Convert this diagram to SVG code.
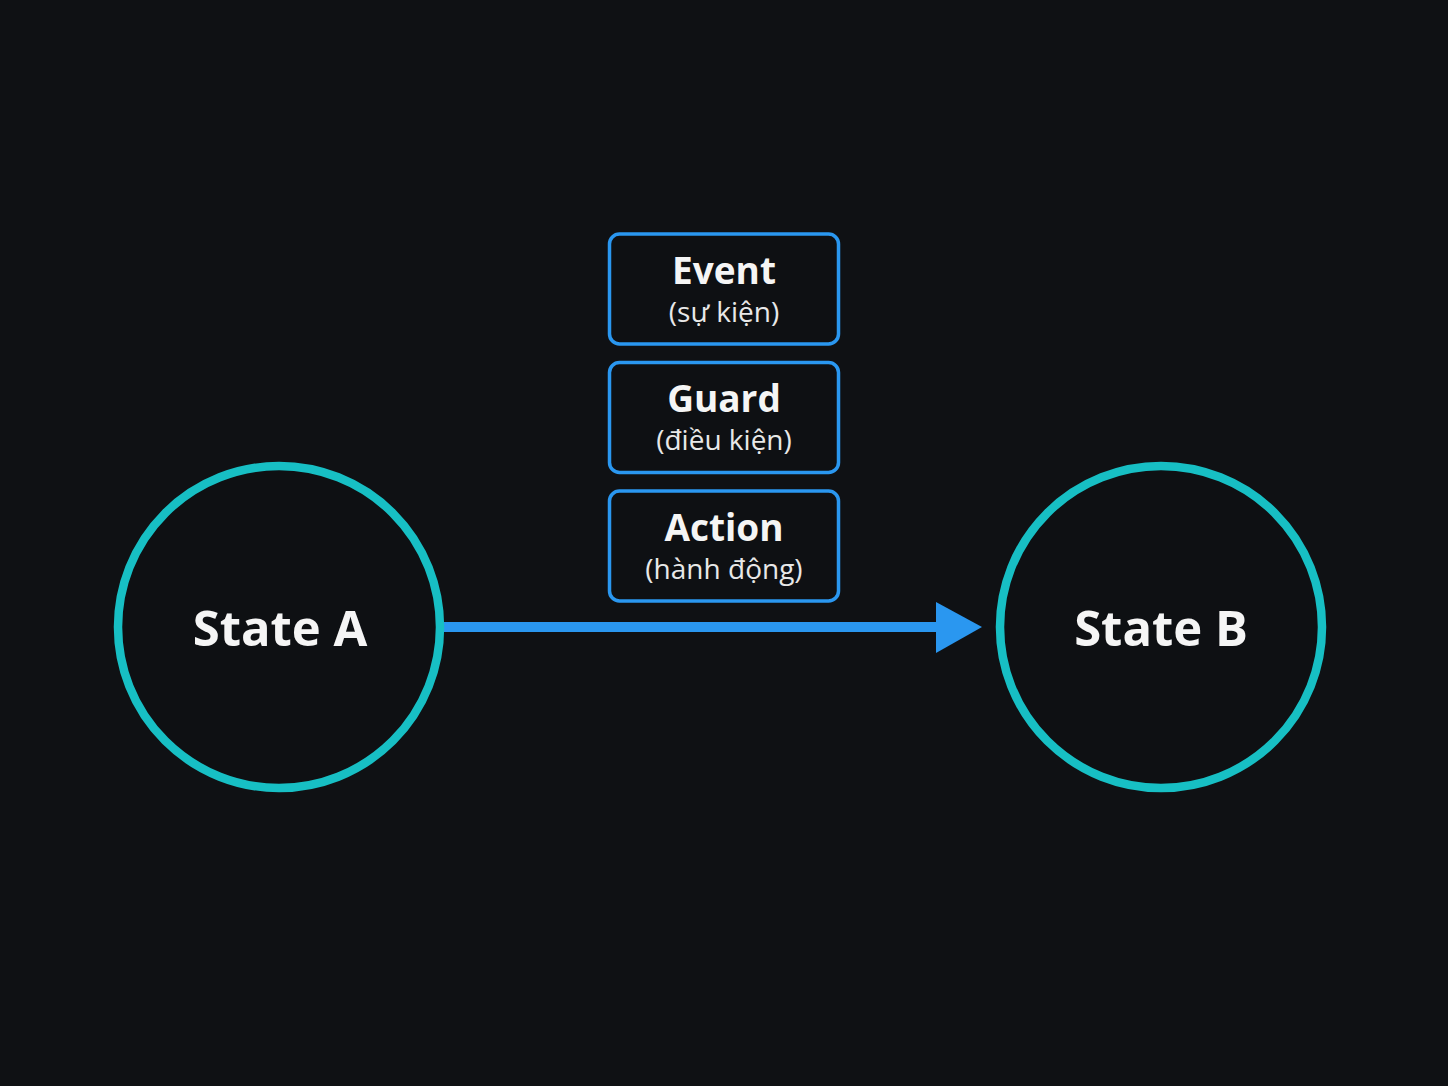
<svg xmlns="http://www.w3.org/2000/svg" width="1448" height="1086" viewBox="0 0 1448 1086">
<style>
.state{fill:#0e1013;stroke:#17bfc4;stroke-width:8.5}
.box{fill:#0e1013;stroke:#2a97f0;stroke-width:3.5}
.st{font-family:"Open Sans","Noto Sans",sans-serif;font-weight:700;font-size:49px;fill:#f5f5f5;text-anchor:middle}
.t1{font-family:"Open Sans","Noto Sans",sans-serif;font-weight:700;font-size:37px;fill:#f5f5f5;text-anchor:middle}
.t2{font-family:"Open Sans","Noto Sans",sans-serif;font-size:28px;fill:#e8e8e8;text-anchor:middle}
</style>
<rect width="1448" height="1086" fill="#0f1114"/>
<g id="connectors">
<line x1="443" y1="627" x2="940" y2="627" stroke="#2a97f0" stroke-width="10"/>
<polygon points="936,602 982,627 936,653" fill="#2a97f0"/>
</g>
<g id="stateA">
<circle class="state" cx="279" cy="627" r="161"/>
<text class="st" x="280" y="646">State A</text>
</g>
<g id="stateB">
<circle class="state" cx="1161" cy="627" r="161"/>
<text class="st" x="1161" y="646">State B</text>
</g>
<g id="event">
<rect class="box" x="609.5" y="234" width="229" height="110" rx="10"/>
<text class="t1" x="724" y="284">Event</text>
<text class="t2" x="724" y="322">(sự kiện)</text>
</g>
<g id="guard">
<rect class="box" x="609.5" y="362.5" width="229" height="110" rx="10"/>
<text class="t1" x="724" y="412">Guard</text>
<text class="t2" x="724" y="450">(điều kiện)</text>
</g>
<g id="action">
<rect class="box" x="609.5" y="491" width="229" height="110" rx="10"/>
<text class="t1" x="724" y="541">Action</text>
<text class="t2" x="724" y="579">(hành động)</text>
</g>
</svg>
